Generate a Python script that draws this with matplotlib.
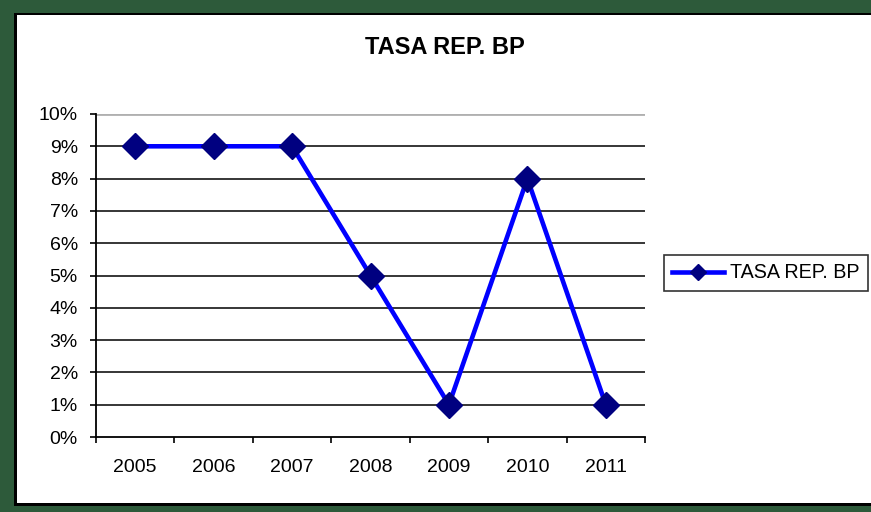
import matplotlib.pyplot as plt
from matplotlib.patches import Rectangle
from matplotlib.ticker import FixedLocator

plt.rcParams['font.family'] = ['Liberation Sans', 'DejaVu Sans']

# datos
years = ['2005', '2006', '2007', '2008', '2009', '2010', '2011']
tasa = [9, 9, 9, 5, 1, 8, 1]
series_name = 'TASA REP. BP'

W, H = 871, 512
fig = plt.figure(figsize=(W / 100, H / 100), dpi=100)
fig.patch.set_facecolor('#2d5a3a')

# panel blanco con borde negro
fig.patches.append(Rectangle((14 / W, 1 - 506 / H), (W - 14) / W + 0.01, (506 - 13) / H,
                             transform=fig.transFigure, facecolor='black',
                             edgecolor='none', zorder=-3))
fig.patches.append(Rectangle((17 / W, 1 - 503 / H), (W - 17) / W + 0.01, (503 - 15) / H,
                             transform=fig.transFigure, facecolor='white',
                             edgecolor='none', zorder=-2))

ax = fig.add_axes([96 / W, 1 - 437 / H, (645 - 96) / W, (437 - 114) / H])
ax.set_facecolor('none')

x = list(range(len(years)))
ax.plot(x, tasa, color='#0000ff', lw=3.3, marker='D', ms=13,
        markerfacecolor='#000080', markeredgecolor='#000080', label=series_name,
        zorder=3, clip_on=False)

ax.set_xlim(-0.5, len(years) - 0.5)
ax.set_ylim(0, 10)

# lineas de division
for v in range(1, 10):
    ax.axhline(v, color='black', lw=1.1, zorder=1)
ax.axhline(10, color='#b0b0b0', lw=2.0, zorder=1)

for s in ['top', 'right']:
    ax.spines[s].set_visible(False)
ax.spines['left'].set_linewidth(1.3)
ax.spines['bottom'].set_linewidth(1.3)

ax.set_yticks(range(0, 11))
ax.set_yticklabels([f'{v}%' for v in range(0, 11)], fontsize=14)
ax.tick_params(axis='y', direction='out', length=4.5, width=1.2, pad=8.5)

ax.set_xticks(x)
ax.set_xticklabels(years, fontsize=14)
ax.tick_params(axis='x', which='major', length=0, pad=16)
ax.xaxis.set_minor_locator(FixedLocator([i - 0.5 for i in range(len(years) + 1)]))
ax.tick_params(axis='x', which='minor', direction='out', length=4.5, width=1.2)

fig.text(445 / W, 1 - 47 / H, series_name, ha='center', va='center',
         fontsize=17, fontweight='bold')

leg = ax.legend(loc='center left', bbox_to_anchor=(664 / W, 1 - 273 / H),
                bbox_transform=fig.transFigure, fontsize=14.2, frameon=True,
                fancybox=False, shadow=False, borderpad=0.42, handlelength=2.6,
                handletextpad=0.35, markerscale=0.6, borderaxespad=0)
leg.get_frame().set_edgecolor('black')
leg.get_frame().set_linewidth(1.2)

fig.savefig('out.png', dpi=100, facecolor=fig.get_facecolor())
